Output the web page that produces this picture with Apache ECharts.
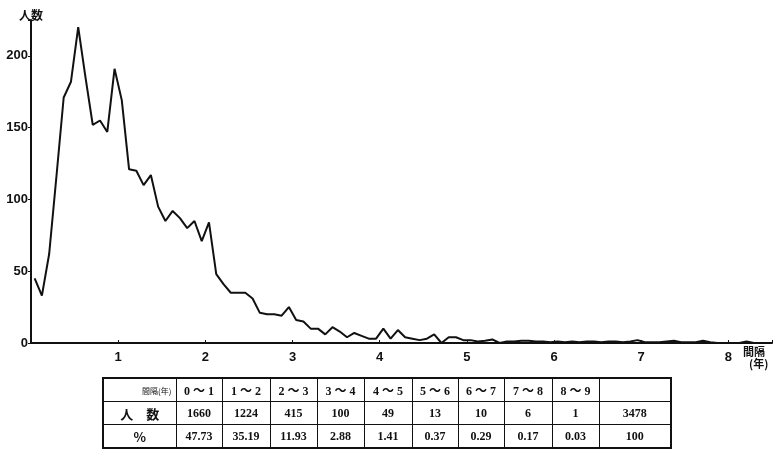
<!DOCTYPE html>
<html>
<head>
<meta charset="utf-8">
<script src="https://cdn.jsdelivr.net/npm/echarts@6/dist/echarts.min.js"></script>
<style>
  html, body { margin: 0; padding: 0; background: #fff; }
  #wrap { position: relative; width: 777px; height: 452px; }
  #chart { position: absolute; left: 0; top: 0; width: 777px; height: 452px; }
  #tbl {
    position: absolute; left: 102px; top: 377px;
    border-collapse: collapse; table-layout: fixed;
    border: 2px solid #111;
    font-family: "Liberation Serif", "Noto Sans CJK JP", serif;
    font-weight: bold; font-size: 12px; color: #111;
  }
  #tbl td {
    border: 1px solid #111; height: 22px; padding: 0;
    text-align: center; vertical-align: middle; white-space: nowrap;
  }
  #tbl td.head { font-family: "Noto Sans CJK JP", sans-serif; font-size: 13px; }
  #tbl td.corner { font-size: 8px; text-align: right; padding-right: 4px; font-weight: normal; }
</style>
</head>
<body>
<div id="wrap">
  <div id="chart"></div>
  <table id="tbl"></table>
</div>
<script>
// monthly counts, one value per month starting at 0 years
const monthCounts = [
  45, 33, 62, 116, 171, 182, 220, 185, 152, 155, 147, 191,
  169, 121, 120, 110, 117, 95, 85, 92, 87, 80, 85, 71,
  84, 48, 41, 35, 35, 35, 31, 21, 20, 20, 19, 25,
  16, 15, 10, 10, 6, 11, 8, 4, 7, 5, 3, 3,
  10, 3, 9, 4, 3, 2, 3, 6, 0, 4, 4, 2,
  2, 1, 1.5, 2.5, 0, 1, 1, 1.5, 1.5, 1, 1, 0.5,
  1, 0.5, 1, 0.5, 1, 1, 0.5, 1, 1, 0.5, 1, 2,
  0.5, 0.5, 0.5, 1, 1.5, 0.5, 0.5, 0.5, 1.5, 0.5, 0, 0,
  0, 0, 1, 0, 0, 0
];

// table below the chart
const rangeLabels = ['0 ～ 1', '1 ～ 2', '2 ～ 3', '3 ～ 4', '4 ～ 5', '5 ～ 6', '6 ～ 7', '7 ～ 8', '8 ～ 9', ''];
const peopleCounts = [1660, 1224, 415, 100, 49, 13, 10, 6, 1, 3478];
const percents = ['47.73', '35.19', '11.93', '2.88', '1.41', '0.37', '0.29', '0.17', '0.03', '100'];
const colWidths = [73, 46, 48, 47, 47, 48, 46, 46, 48, 47, 72];

// each month is plotted at the middle of its interval
const points = monthCounts.map((v, i) => [(i + 0.5) / 12, v]);

const chart = echarts.init(document.getElementById('chart'));

chart.setOption({
  animation: false,
  backgroundColor: '#fff',
  grid: { left: 31, right: 5, top: 20, bottom: 109, containLabel: false },
  xAxis: {
    type: 'value',
    min: 0,
    max: 8.5,
    interval: 1,
    splitLine: { show: false },
    axisLine: { lineStyle: { color: '#111', width: 2 } },
    axisTick: { show: true, inside: true, length: 3, lineStyle: { color: '#111' } },
    axisLabel: {
      margin: 8,
      color: '#111',
      fontSize: 13,
      fontWeight: 'bold',
      fontFamily: 'Liberation Sans',
      formatter: v => (v > 0 && Number.isInteger(v)) ? String(v) : ''
    }
  },
  yAxis: {
    type: 'value',
    min: 0,
    max: 225,
    interval: 50,
    name: '人数',
    nameLocation: 'end',
    nameGap: -1,
    nameTextStyle: {
      color: '#111', fontSize: 12, fontWeight: 'bold',
      fontFamily: 'Noto Sans CJK JP', align: 'center'
    },
    splitLine: { show: false },
    axisLine: { show: true, lineStyle: { color: '#111', width: 2 } },
    axisTick: { show: true, length: 3, lineStyle: { color: '#111' } },
    axisLabel: {
      margin: 3,
      color: '#111',
      fontSize: 13,
      fontWeight: 'bold',
      fontFamily: 'Liberation Sans',
      formatter: v => (v % 50 === 0) ? String(v) : ''
    }
  },
  series: [{
    type: 'line',
    data: points,
    showSymbol: false,
    lineStyle: { color: '#111', width: 2 },
    z: 3
  }],
  graphic: [
    {
      type: 'text', left: 743, top: 346,
      style: { text: '間隔', fill: '#111', font: 'bold 11px "Noto Sans CJK JP"' }
    },
    {
      type: 'text', left: 749, top: 358,
      style: { text: '(年)', fill: '#111', font: 'bold 11px "Noto Sans CJK JP"' }
    }
  ]
});

// build the table from the arrays
const tbl = document.getElementById('tbl');
const colgroup = document.createElement('colgroup');
colWidths.forEach(w => {
  const c = document.createElement('col');
  c.style.width = w + 'px';
  colgroup.appendChild(c);
});
tbl.appendChild(colgroup);

function addRow(head, values, headClass) {
  const tr = document.createElement('tr');
  const th = document.createElement('td');
  th.textContent = head;
  th.className = headClass;
  tr.appendChild(th);
  values.forEach(v => {
    const td = document.createElement('td');
    td.textContent = v;
    tr.appendChild(td);
  });
  tbl.appendChild(tr);
}
addRow('間隔(年)', rangeLabels, 'head corner');
addRow('人　数', peopleCounts, 'head');
addRow('%', percents, 'head');
</script>
</body>
</html>
